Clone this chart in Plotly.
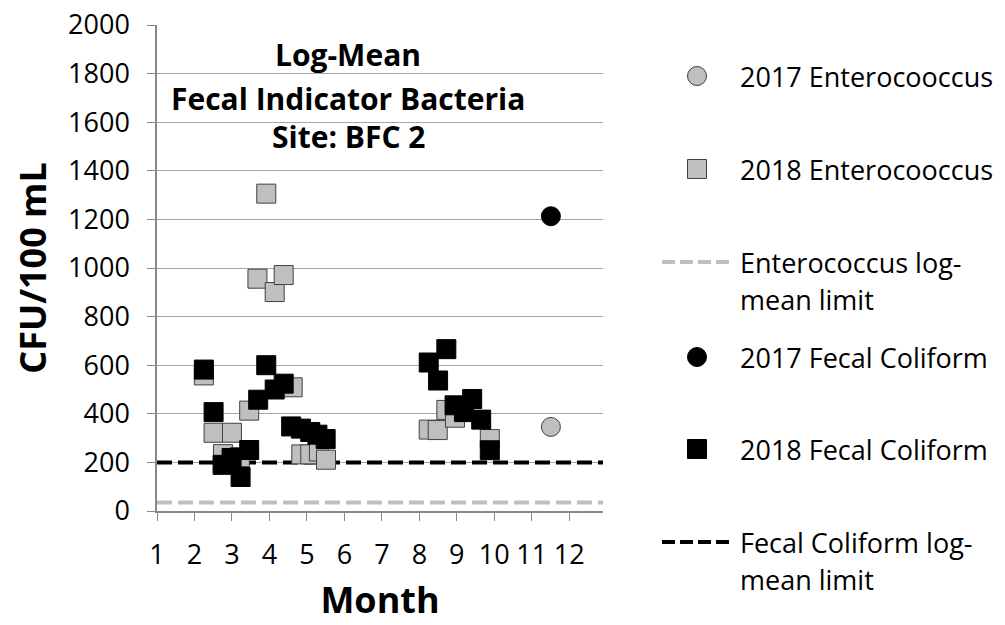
import plotly.graph_objects as go

# ---------------- data ----------------
MONTH_TICKS = [1, 2, 3, 4, 5, 6, 7, 8, 9, 10, 11, 12]

ent2017_month = [11.51]
ent2017_value = [346]

fc2017_month = [11.51]
fc2017_value = [1213]

ent2018_month = [2.25, 2.51, 3.00, 2.76, 3.21, 3.46, 3.68, 3.915, 4.14, 4.38,
                 4.62, 4.85, 5.09, 5.32, 5.51, 8.25, 8.49, 8.72, 8.95, 9.88]
ent2018_value = [558, 322, 322, 234, 222, 413, 956, 1306, 901, 971,
                 509, 233, 233, 245, 211, 335, 333, 416, 384, 296]

fc2018_month = [2.25, 2.51, 2.75, 2.99, 3.23, 3.46, 3.70, 3.915, 4.14, 4.38,
                4.58, 4.84, 5.09, 5.28, 5.50, 8.25, 8.50, 8.72, 8.94, 9.19,
                9.41, 9.65, 9.88]
fc2018_value = [582, 407, 190, 218, 140, 251, 458, 600, 500, 524,
                348, 339, 325, 314, 296, 611, 537, 666, 435, 407,
                461, 376, 250]

ENTERO_LIMIT = 35
FECAL_LIMIT = 200

X_RANGE = [1, 12.9]
Y_RANGE = [0, 2000]

legend_labels = [
    "2017 Enterocooccus",
    "2018 Enterocooccus",
    "Enterococcus log-<br>mean limit",
    "2017 Fecal Coliform",
    "2018 Fecal Coliform",
    "Fecal Coliform log-<br>mean limit",
]
title_lines = ["Log-Mean", "Fecal Indicator Bacteria", "Site: BFC 2"]

# ---------------- style ----------------
FONT = "Open Sans"
GRAY = "#BFBFBF"
EDGE = "#404040"
W_PX, H_PX = 1005, 625
ML, MR, MT, MB = 157, 402, 25, 114
PW = W_PX - ML - MR
PH = H_PX - MT - MB


def px_x(px):
    return (px - ML) / PW


def px_y(py):
    return (H_PX - MB - py) / PH


fig = go.Figure()

# limit lines (under markers)
fig.add_trace(go.Scatter(x=X_RANGE, y=[ENTERO_LIMIT, ENTERO_LIMIT], mode="lines",
                         line=dict(color=GRAY, width=4, dash="15px,6px"),
                         showlegend=False, hoverinfo="skip"))
fig.add_trace(go.Scatter(x=X_RANGE, y=[FECAL_LIMIT, FECAL_LIMIT], mode="lines",
                         line=dict(color="black", width=4, dash="15px,6px"),
                         showlegend=False, hoverinfo="skip"))

fig.add_trace(go.Scatter(x=ent2017_month, y=ent2017_value, mode="markers",
                         marker=dict(symbol="circle", size=19, color=GRAY,
                                     line=dict(color=EDGE, width=1)),
                         showlegend=False))
fig.add_trace(go.Scatter(x=ent2018_month, y=ent2018_value, mode="markers",
                         marker=dict(symbol="square", size=19, color=GRAY,
                                     line=dict(color=EDGE, width=1)),
                         showlegend=False))
fig.add_trace(go.Scatter(x=fc2017_month, y=fc2017_value, mode="markers",
                         marker=dict(symbol="circle", size=19, color="black",
                                     line=dict(color="black", width=1)),
                         showlegend=False))
fig.add_trace(go.Scatter(x=fc2018_month, y=fc2018_value, mode="markers",
                         marker=dict(symbol="square", size=19, color="black",
                                     line=dict(color="black", width=1)),
                         showlegend=False))

annotations = []
# title lines inside plot
for txt, py in zip(title_lines, [54, 98, 137]):
    annotations.append(dict(text=txt, xref="paper", yref="paper",
                            x=px_x(348), y=px_y(py), xanchor="center", yanchor="middle",
                            showarrow=False,
                            font=dict(family=FONT, size=30, color="black", weight="bold")))

# manual legend
shapes = []
MX = 697
TX = 738
r = 9.5
shapes.append(dict(type="circle", xref="paper", yref="paper",
                   x0=px_x(MX - r), x1=px_x(MX + r), y0=px_y(76 + r), y1=px_y(76 - r),
                   fillcolor=GRAY, line=dict(color=EDGE, width=1)))
shapes.append(dict(type="rect", xref="paper", yref="paper",
                   x0=px_x(MX - r), x1=px_x(MX + r), y0=px_y(169 + r), y1=px_y(169 - r),
                   fillcolor=GRAY, line=dict(color=EDGE, width=1)))
shapes.append(dict(type="line", xref="paper", yref="paper",
                   x0=px_x(662), x1=px_x(732), y0=px_y(262), y1=px_y(262),
                   line=dict(color=GRAY, width=4, dash="13px,5px")))
shapes.append(dict(type="circle", xref="paper", yref="paper",
                   x0=px_x(MX - r), x1=px_x(MX + r), y0=px_y(357 + r), y1=px_y(357 - r),
                   fillcolor="black", line=dict(color="black", width=1)))
shapes.append(dict(type="rect", xref="paper", yref="paper",
                   x0=px_x(MX - r), x1=px_x(MX + r), y0=px_y(449 + r), y1=px_y(449 - r),
                   fillcolor="black", line=dict(color="black", width=1)))
shapes.append(dict(type="line", xref="paper", yref="paper",
                   x0=px_x(662), x1=px_x(732), y0=px_y(542), y1=px_y(542),
                   line=dict(color="black", width=4, dash="13px,5px")))

LEG_SIZE = 27
legend_text_y = [76, 169, None, 357, 449, None]
for lab, py in zip(legend_labels, legend_text_y):
    if py is not None:
        annotations.append(dict(text=lab, xref="paper", yref="paper",
                                x=px_x(TX), y=px_y(py), xanchor="left", yanchor="middle",
                                showarrow=False,
                                font=dict(family=FONT, size=LEG_SIZE, color="black")))
for lab, py1, py2 in [(legend_labels[2], 262, 300), (legend_labels[5], 542, 579)]:
    l1, l2 = lab.split("<br>")
    for t, py in [(l1, py1), (l2, py2)]:
        annotations.append(dict(text=t, xref="paper", yref="paper",
                                x=px_x(TX), y=px_y(py), xanchor="left", yanchor="middle",
                                showarrow=False,
                                font=dict(family=FONT, size=LEG_SIZE, color="black")))

fig.update_layout(
    template="none",
    width=W_PX, height=H_PX,
    margin=dict(l=ML, r=MR, t=MT, b=MB, autoexpand=False),
    paper_bgcolor="white", plot_bgcolor="white",
    showlegend=False,
    font=dict(family=FONT, color="black"),
    annotations=annotations,
    shapes=shapes,
    xaxis=dict(range=X_RANGE, tickmode="array", tickvals=MONTH_TICKS,
               ticktext=[str(m) for m in MONTH_TICKS],
               automargin=False,
               showgrid=False, zeroline=False,
               showline=True, linecolor="#888888", linewidth=1.5,
               ticks="outside", ticklen=8, tickcolor="#888888", tickwidth=1,
               tickfont=dict(family=FONT, size=27, color="black"),
               ticklabelstandoff=11,
               title=dict(text="Month", font=dict(family=FONT, size=36, color="black", weight="bold"),
                          standoff=17)),
    yaxis=dict(range=Y_RANGE, dtick=200, tick0=0,
               automargin=False,
               showgrid=True, gridcolor="#A6A6A6", gridwidth=1, zeroline=False,
               showline=True, linecolor="#888888", linewidth=1.5,
               ticks="outside", ticklen=8, tickcolor="#888888", tickwidth=1,
               tickfont=dict(family=FONT, size=27, color="black"),
               ticklabelstandoff=12,
               title=dict(text="CFU/100 mL", font=dict(family=FONT, size=36, color="black", weight="bold"),
                          standoff=10)),
)

fig.write_html(
    "out.html",
    config={"displayModeBar": False},
    post_script="document.body.style.margin='0';document.body.style.padding='0';"
                "document.body.style.overflow='hidden';",
)
